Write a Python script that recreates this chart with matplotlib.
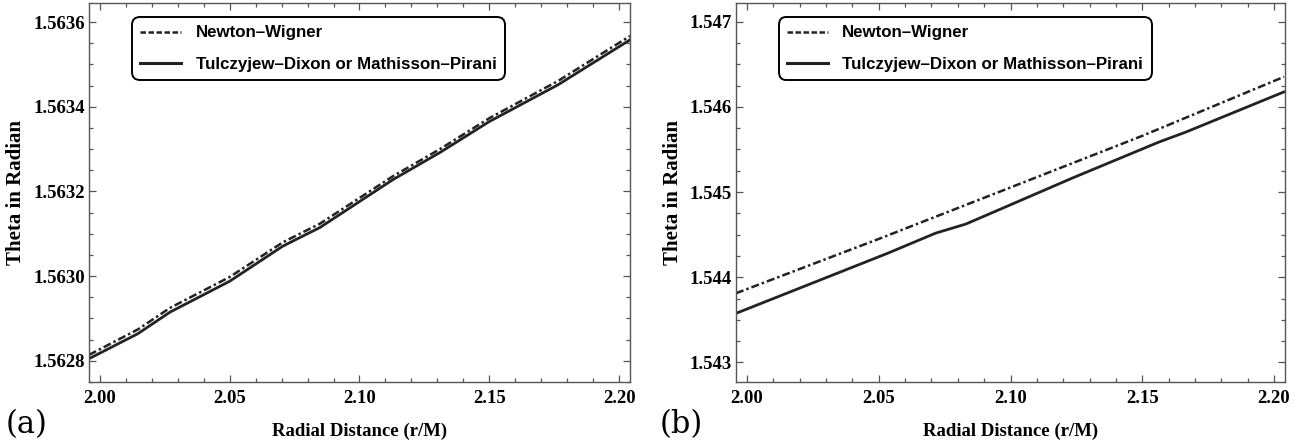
import matplotlib
matplotlib.use("Agg")
import matplotlib.pyplot as plt
from matplotlib.lines import Line2D
from matplotlib.ticker import MultipleLocator, FormatStrFormatter
from matplotlib import font_manager

# ---------------- data ----------------
# panel (a)
a_td_x = [1.9958, 2.0146, 2.027, 2.050, 2.0705, 2.0848, 2.1129, 2.131, 2.150, 2.1765, 2.2042]
a_td_y = [1.562805, 1.562864, 1.562915, 1.562988, 1.563071, 1.563115, 1.563228, 1.563292,
          1.563365, 1.563452, 1.563558]
a_nw_x = [1.9958, 2.0146, 2.027, 2.050, 2.0705, 2.0848, 2.1129, 2.131, 2.150, 2.1765, 2.2042]
a_nw_y = [1.562814, 1.562874, 1.562925, 1.562998, 1.563080, 1.563124, 1.563236, 1.563300,
          1.563373, 1.563461, 1.563567]
# panel (b)
b_td_x = [1.9958, 2.0534, 2.0716, 2.083, 2.098, 2.1235, 2.1564, 2.1667, 2.2038]
b_td_y = [1.543576, 1.544282, 1.544518, 1.544624, 1.544824, 1.545165, 1.545588, 1.545706, 1.546176]
b_nw_x = [1.9958, 2.050, 2.098, 2.150, 2.2038]
b_nw_y = [1.543812, 1.544450, 1.545030, 1.545660, 1.546353]

xticks = [2.00, 2.05, 2.10, 2.15, 2.20]
a_yticks = [1.5628, 1.5630, 1.5632, 1.5634, 1.5636]
b_yticks = [1.543, 1.544, 1.545, 1.546, 1.547]

labels = ["Newton\u2013Wigner", "Tulczyjew\u2013Dixon or Mathisson\u2013Pirani"]
xlabel = "Radial Distance (r/M)"
ylabel = "Theta in Radian"
panel_tags = ["(a)", "(b)"]

# ---------------- fonts ----------------
names = {f.name for f in font_manager.fontManager.ttflist}
if "Liberation Sans Narrow" in names:
    legend_font, legend_size = "Liberation Sans Narrow", 14.5
else:
    legend_font, legend_size = "Liberation Sans", 12.2
serif_font = "Liberation Serif"

fig = plt.figure(figsize=(13.15, 4.47), dpi=100)
frame_col = "#555555"

axes_pos = [
    [89 / 1315, 65 / 447, (630 - 89) / 1315, (382 - 3) / 447],
    [736 / 1315, 65 / 447, (1285 - 736) / 1315, (382 - 3) / 447],
]
panels = [
    (a_nw_x, a_nw_y, a_td_x, a_td_y, a_yticks, (1.56275, 1.563645), 0.00005, "%.4f",
     (0.0795, 0.963), 6 / 1315),
    (b_nw_x, b_nw_y, b_td_x, b_td_y, b_yticks, (1.54277, 1.54722), 0.00025, "%.3f",
     (0.078, 0.963), 660 / 1315),
]

nw_style = (0, (3.2, 1.2, 1.0, 1.2))

for i, (pos, p) in enumerate(zip(axes_pos, panels)):
    nwx, nwy, tdx, tdy, yt, ylim, ymin, fmt, leg_anchor, tagx = p
    ax = fig.add_axes(pos)
    ax.plot(nwx, nwy, color="#222222", lw=1.8, linestyle=nw_style)
    ax.plot(tdx, tdy, color="#222222", lw=2.0, linestyle="-")
    ax.set_xlim(1.9958, 2.2042)
    ax.set_ylim(*ylim)
    ax.set_xticks(xticks)
    ax.set_yticks(yt)
    ax.xaxis.set_minor_locator(MultipleLocator(0.01))
    ax.yaxis.set_minor_locator(MultipleLocator(ymin))
    ax.xaxis.set_major_formatter(FormatStrFormatter("%.2f"))
    ax.yaxis.set_major_formatter(FormatStrFormatter(fmt))
    ax.tick_params(which="both", direction="in", top=True, right=True, color=frame_col, width=0.9)
    ax.tick_params(which="major", length=5)
    ax.tick_params(which="minor", length=3)
    ax.tick_params(axis="x", which="major", pad=6)
    ax.tick_params(axis="y", which="major", pad=3)
    for lab in ax.get_xticklabels() + ax.get_yticklabels():
        lab.set_fontfamily(serif_font)
        lab.set_fontweight("bold")
        lab.set_fontsize(13.5)
    for s in ax.spines.values():
        s.set_color(frame_col)
        s.set_linewidth(1.0)
    ax.set_xlabel(xlabel, fontfamily=serif_font, fontweight="bold", fontsize=13.5, labelpad=11)
    ax.set_ylabel(ylabel, fontfamily=serif_font, fontweight="bold", fontsize=15, labelpad=5)

    handles = [Line2D([], [], color="#222222", lw=1.8, linestyle=(0, (2.2, 1.0))),
               Line2D([], [], color="#222222", lw=2.2, linestyle="-")]
    leg = ax.legend(handles, labels, loc="upper left", bbox_to_anchor=leg_anchor,
                    borderaxespad=0, fancybox=True, framealpha=1, edgecolor="black",
                    prop={"family": legend_font, "weight": "bold", "size": legend_size},
                    handlelength=2.4, handletextpad=0.85, borderpad=0.5, labelspacing=0.95)
    leg.get_frame().set_linewidth(1.4)
    leg.get_frame().set_boxstyle("round", pad=0, rounding_size=0.45)

    fig.text(tagx, 14 / 447, panel_tags[i], fontfamily="DejaVu Serif", fontsize=22,
             ha="left", va="baseline")

fig.savefig("out.png", dpi=100)
